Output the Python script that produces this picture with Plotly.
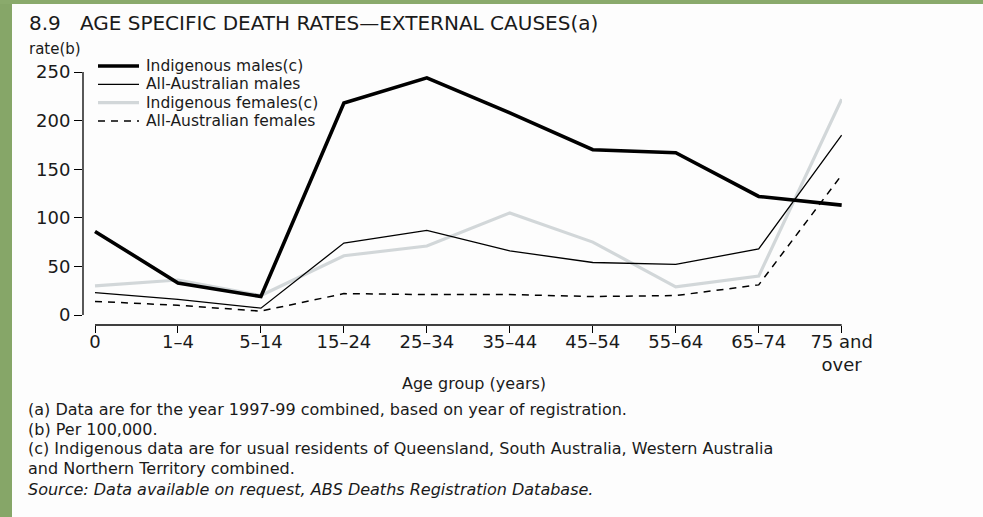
import plotly.graph_objects as go

# ---------------- data ----------------
age_groups = ["0", "1–4", "5–14", "15–24", "25–34", "35–44", "45–54", "55–64", "65–74", "75 and<br>over"]
indigenous_males = [86, 33, 19, 218, 244, 208, 170, 167, 122, 113]
all_aus_males = [23, 16, 7, 74, 87, 66, 54, 52, 68, 185]
indigenous_females = [30, 36, 20, 61, 71, 105, 75, 29, 40, 222]
all_aus_females = [14, 10, 4, 22, 21, 21, 19, 20, 31, 144]
series_names = ["Indigenous males(c)", "All-Australian males", "Indigenous females(c)", "All-Australian females"]
y_ticks = [0, 50, 100, 150, 200, 250]

title_text = "8.9\u00a0\u00a0\u00a0AGE SPECIFIC DEATH RATES—EXTERNAL CAUSES(a)"
footnotes = [
    "(a) Data are for the year 1997-99 combined, based on year of registration.",
    "(b) Per 100,000.",
    "(c) Indigenous data are for usual residents of Queensland, South Australia, Western Australia",
    "and Northern Territory combined.",
]
source_text = "Source: Data available on request, ABS Deaths Registration Database."

# ---------------- layout helpers ----------------
W, H = 983, 517
def px(x):
    return x / W
def py(y):
    return 1 - y / H

FONT = "DejaVu Sans"
TXT = "#1a1a1a"
x_idx = list(range(len(age_groups)))

styles = [
    dict(color="#000000", width=3.6, dash="solid"),
    dict(color="#000000", width=1.3, dash="solid"),
    dict(color="#d2d7d9", width=3.2, dash="solid"),
    dict(color="#000000", width=1.5, dash="7px,6px"),
]
all_series = [indigenous_males, all_aus_males, indigenous_females, all_aus_females]

fig = go.Figure()
order = [2, 3, 1, 0]
for i in order:
    fig.add_trace(go.Scatter(
        x=x_idx, y=all_series[i], mode="lines", name=series_names[i],
        line=dict(color=styles[i]["color"], width=styles[i]["width"], dash=styles[i]["dash"]),
        showlegend=False, hoverinfo="skip",
    ))

x_dom = [px(83), px(842)]
y_dom = [py(325), py(72)]

shapes = [
    dict(type="rect", xref="paper", yref="paper", x0=0, x1=px(12), y0=0, y1=1,
         fillcolor="#86a668", line=dict(width=0), layer="below"),
    dict(type="rect", xref="paper", yref="paper", x0=0, x1=1, y0=py(4), y1=1,
         fillcolor="#8aaa6c", line=dict(width=0), layer="below"),
    dict(type="line", xref="paper", yref="y", x0=x_dom[0], x1=x_dom[0], y0=0, y1=250,
         line=dict(color="black", width=1.3)),
    dict(type="line", xref="x", yref="paper", x0=0, x1=9, y0=y_dom[0], y1=y_dom[0],
         line=dict(color="black", width=1.3)),
]

annotations = [
    dict(text=title_text, x=px(27), y=py(23), xref="paper", yref="paper",
         xanchor="left", yanchor="middle", showarrow=False,
         font=dict(family=FONT, size=20, color=TXT)),
    dict(text="rate(b)", x=px(27), y=py(49), xref="paper", yref="paper",
         xanchor="left", yanchor="middle", showarrow=False,
         font=dict(family=FONT, size=15, color=TXT)),
    dict(text="Age group (years)", x=px(400), y=py(383), xref="paper", yref="paper",
         xanchor="left", yanchor="middle", showarrow=False,
         font=dict(family=FONT, size=16, color=TXT)),
]

legend_y = [66, 84.3, 102.6, 120.9]
for i, name in enumerate(series_names):
    shapes.append(dict(type="line", xref="paper", yref="paper",
                       x0=px(98), x1=px(139), y0=py(legend_y[i]), y1=py(legend_y[i]),
                       line=dict(color=styles[i]["color"], width=styles[i]["width"],
                                 dash=styles[i]["dash"])))
    annotations.append(dict(text=name, x=px(145), y=py(legend_y[i]), xref="paper", yref="paper",
                            xanchor="left", yanchor="middle", showarrow=False, borderpad=0,
                            font=dict(family=FONT, size=15.5, color=TXT)))

foot_y = [409.5, 429, 448.5, 468]
for t, yy in zip(footnotes, foot_y):
    annotations.append(dict(text=t, x=px(27), y=py(yy), xref="paper", yref="paper",
                            xanchor="left", yanchor="middle", showarrow=False, borderpad=0,
                            font=dict(family=FONT, size=16, color=TXT)))
annotations.append(dict(text="<i>" + source_text + "</i>", x=px(27), y=py(490), xref="paper", yref="paper",
                        xanchor="left", yanchor="middle", showarrow=False, borderpad=0,
                        font=dict(family=FONT, size=16, color=TXT)))

fig.update_layout(
    width=W, height=H,
    margin=dict(l=0, r=0, t=0, b=0, autoexpand=False),
    paper_bgcolor="#fdfdfd", plot_bgcolor="rgba(0,0,0,0)",
    showlegend=False,
    shapes=shapes, annotations=annotations,
    xaxis=dict(domain=x_dom, range=[-0.1446, 9.004], showgrid=False, zeroline=False,
               automargin=False,
               showline=False, ticks="outside", ticklen=0, tickwidth=1.3, tickcolor="black",
               tickvals=x_idx, ticktext=age_groups,
               minor=dict(ticks="outside", ticklen=7, tickwidth=1.3, tickcolor="black",
                          tickvals=x_idx, showgrid=False),
               tickfont=dict(family=FONT, size=18, color=TXT)),
    yaxis=dict(domain=y_dom, range=[-10.29, 250], showgrid=False, zeroline=False,
               automargin=False,
               showline=False, ticks="outside", ticklen=8, tickwidth=1.3, tickcolor="black",
               tickvals=y_ticks, ticktext=[str(v) for v in y_ticks],
               tickfont=dict(family=FONT, size=18, color=TXT)),
)

fig.write_html("out.html", config={"displayModeBar": False},
               post_script="document.documentElement.style.margin='0';document.body.style.margin='0';document.body.style.overflow='hidden';")
